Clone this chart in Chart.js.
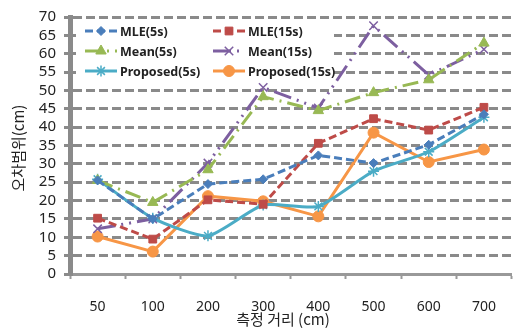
<!DOCTYPE html>
<html>
<head>
<meta charset="utf-8">
<script src="https://cdn.jsdelivr.net/npm/chart.js@4"></script>
<style>
  html, body { margin: 0; padding: 0; background: #fff; }
  #wrap { width: 519px; height: 328px; }
</style>
</head>
<body>
<div id="wrap"><canvas id="myChart" width="519" height="328"></canvas></div>
<script>
// chart data
var distances = ["50", "100", "200", "300", "400", "500", "600", "700"];
var mle5s = [25.5, 15, 24.5, 25.8, 32.3, 30.2, 35.2, 43.5];
var mle15s = [15.2, 9.5, 20.2, 19, 35.6, 42.3, 39.2, 45.4];
var mean5s = [25.5, 19.5, 28.4, 48.3, 44.5, 49.4, 52.9, 62.9];
var mean15s = [12.3, 15, 30.2, 50.8, 45.2, 67.6, 54.2, 61.2];
var proposed5s = [25.8, 15.2, 10.4, 18.8, 18.4, 28, 33.3, 42.7];
var proposed15s = [10.2, 6.1, 21.2, 19.8, 15.7, 38.5, 30.5, 33.9];
var yTicks = [0, 5, 10, 15, 20, 25, 30, 35, 40, 45, 50, 55, 60, 65, 70];

var gridGray = '#8a8a8a';

function series(label, data, color, dash, style, radius, tension) {
  return {
    label: label,
    data: data,
    borderColor: color,
    backgroundColor: color,
    borderWidth: 3,
    borderDash: dash,
    borderCapStyle: 'butt',
    pointStyle: style,
    pointRadius: radius,
    pointBorderWidth: style === 'crossRot' || style === 'star' ? 1.5 : 1,
    pointBorderColor: color,
    pointBackgroundColor: color,
    tension: tension || 0
  };
}

// legend drawn inside plot, 2 columns x 3 rows
var insideLegend = {
  id: 'insideLegend',
  afterDraw: function (chart) {
    var ctx = chart.ctx;
    ctx.save();
    ctx.fillStyle = '#fff';
    ctx.fillRect(76, 21, 258, 61);
    var cols = [85, 213];
    var rows = [31, 51, 71];
    chart.data.datasets.forEach(function (ds, i) {
      var x = cols[i % 2], y = rows[Math.floor(i / 2)];
      ctx.save();
      ctx.strokeStyle = ds.borderColor;
      ctx.lineWidth = 3;
      ctx.setLineDash(ds.borderDash || []);
      ctx.beginPath();
      ctx.moveTo(x, y);
      ctx.lineTo(x + 32, y);
      ctx.stroke();
      ctx.setLineDash([]);
      ctx.fillStyle = ds.borderColor;
      ctx.strokeStyle = ds.borderColor;
      ctx.lineWidth = ds.pointBorderWidth;
      Chart.helpers.drawPoint(ctx, {pointStyle: ds.pointStyle, radius: ds.pointRadius, rotation: 0, borderWidth: ds.pointBorderWidth}, x + 16, y);
      ctx.restore();
      ctx.fillStyle = '#222';
      ctx.font = 'bold 12.5px "Noto Sans", "Noto Sans CJK KR"';
      ctx.textBaseline = 'middle';
      ctx.textAlign = 'left';
      ctx.fillText(ds.label, x + 35, y + 1);
    });
    ctx.restore();
  }
};

// axis titles
var axisTitles = {
  id: 'axisTitles',
  afterDraw: function (chart) {
    var ctx = chart.ctx;
    ctx.save();
    ctx.fillStyle = '#222';
    ctx.font = '15px "Noto Sans CJK KR"';
    ctx.textAlign = 'center';
    ctx.textBaseline = 'middle';
    ctx.fillText('측정 거리 (cm)', 283, 319);
    ctx.translate(18, 148);
    ctx.rotate(-Math.PI / 2);
    ctx.fillText('오차범위(cm)', 0, 0);
    ctx.restore();
  }
};

var ctx = document.getElementById('myChart').getContext('2d');
var chart = new Chart(ctx, {
  type: 'line',
  data: {
    labels: distances,
    datasets: [
      series('MLE(5s)', mle5s, '#4a7ebb', [8, 4], 'rectRot', 4.5),
      series('MLE(15s)', mle15s, '#be4b48', [8, 4], 'rect', 5.5),
      series('Mean(5s)', mean5s, '#98b954', [16, 6, 2, 6], 'triangle', 6),
      series('Mean(15s)', mean15s, '#7d5fa0', [18, 6, 2, 6, 2, 6], 'crossRot', 6),
      series('Proposed(5s)', proposed5s, '#4bacc6', [], 'star', 5.5, 0.2),
      series('Proposed(15s)', proposed15s, '#f79646', [], 'circle', 5.5)
    ]
  },
  plugins: [insideLegend, axisTitles],
  options: {
    responsive: false,
    animation: false,
    layout: { padding: { top: 17, right: 0, left: 0, bottom: 0 } },
    plugins: {
      legend: { display: false },
      tooltip: { enabled: false }
    },
    scales: {
      x: {
        type: 'category',
        offset: true,
        afterFit: function (scale) { scale.height = 54; },
        grid: {
          offset: true,
          drawOnChartArea: false,
          drawTicks: true,
          tickLength: 5,
          tickWidth: 2,
          tickColor: '#999'
        },
        border: { display: true, width: 3, color: '#999' },
        ticks: {
          padding: 20,
          color: '#222',
          font: { family: '"Noto Sans"', size: 14 },
          maxRotation: 0
        }
      },
      y: {
        min: 0,
        max: 70,
        afterFit: function (scale) { scale.width = 70; },
        afterBuildTicks: function (scale) {
          scale.ticks = yTicks.map(function (v) { return { value: v }; });
        },
        grid: {
          color: gridGray,
          lineWidth: 3,
          drawTicks: true,
          tickLength: 6,
          tickWidth: 3,
          tickColor: gridGray,
          tickBorderDash: []
        },
        border: { display: true, width: 5, color: gridGray, dash: [9, 4] },
        ticks: {
          autoSkip: false,
          stepSize: 5,
          padding: 8,
          color: '#222',
          font: { family: '"Noto Sans"', size: 15 }
        }
      }
    }
  }
});
</script>
</body>
</html>
